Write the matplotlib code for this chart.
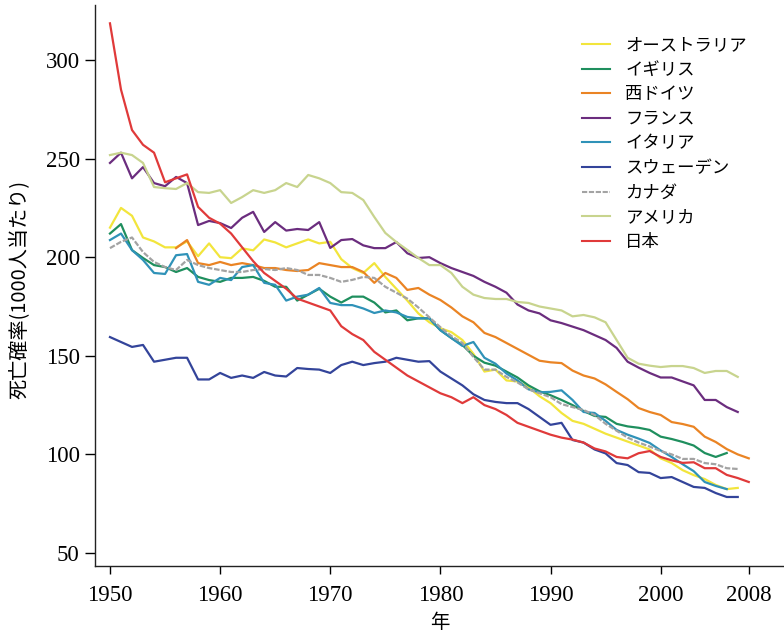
import matplotlib
matplotlib.use("Agg")
import matplotlib.pyplot as plt
import numpy as np

years_full = list(range(1950, 2009))

japan = [318.6, 285, 264.5, 257, 253, 238, 240, 242, 225.5, 220,
         217, 212, 205, 198, 192, 188, 184, 179, 177, 175,
         173, 165, 161, 158, 152, 148, 144, 140, 137, 134,
         131, 129, 126, 129, 125, 123, 120, 116, 114, 112,
         110, 108.5, 107.5, 106, 103, 101.5, 98.7, 98, 100.6, 101.7,
         98.7, 97, 95.7, 96, 93, 93, 89.6, 88, 86]

australia = [215, 225, 221, 210, 208, 205, 205, 208, 200.5, 207,
             200, 199.5, 204.5, 203.5, 209, 207.5, 205, 207, 209, 207,
             207.8, 199, 194.5, 192, 197, 190, 184, 178, 171.5, 167,
             164, 162, 158, 151, 142, 143, 137.5, 137, 134, 129.5,
             126, 121, 117, 115.5, 113, 110.5, 108.5, 106.5, 104.5, 102.5,
             98, 95.6, 92, 89.5, 87.5, 84.5, 82.4, 83]

uk = [212, 216.8, 203.6, 199.6, 196, 195, 192.5, 194.5, 190, 188.4,
      187.5, 189.5, 189.5, 190, 188, 185, 185, 178, 181, 184,
      180, 177, 180, 180, 177, 172, 173, 168, 169, 169,
      163, 159, 155.5, 150, 146.5, 145, 142, 139, 135, 132,
      130, 127.6, 125, 122, 119.5, 119, 115.5, 114.2, 113.5, 112.4,
      109, 107.8, 106.3, 104.5, 100.7, 98.7, 100.7]

west_germany_years = list(range(1956, 2009))
west_germany = [204.6, 208.7, 197, 196, 197.6, 196, 197, 196, 194.5, 194.5,
                193.5, 193, 193.5, 197, 196, 195, 195, 192.5, 187, 192,
                189.5, 183.4, 184.4, 181, 178.3, 174.5, 170, 167, 161.6, 159.5,
                156.5, 153.5, 150.5, 147.5, 146.7, 146.3, 142.5, 140, 138.5, 135.5,
                131.7, 128, 123.5, 121.5, 120, 116.4, 115.4, 114, 109, 106.3,
                102.7, 100, 98]

france = [247.8, 253, 240, 245.7, 237.6, 236, 240.7, 237.6, 216.3, 218.4,
          217.3, 214.8, 220, 223, 212.8, 217.8, 213.5, 214.3, 213.8, 217.8,
          204.7, 208.7, 209.2, 206, 204.6, 204.6, 207.7, 202, 199.6, 200,
          197, 194.5, 192.5, 190.5, 187.5, 185, 182, 176, 173, 171.5,
          168, 166.6, 164.8, 163, 160.5, 158, 154, 147, 144, 141.3,
          139, 139, 137, 135, 127.6, 127.6, 124, 121.5]

italy = [208.7, 212, 203.6, 198.6, 192, 191.5, 201, 201.6, 187.5, 186,
         189.5, 188.4, 195, 196, 187, 186, 178, 180, 181, 184.4,
         176.8, 175.7, 175.7, 174, 171.7, 173, 172, 169.7, 169, 169,
         163, 159, 155, 157, 149, 146, 141, 137.5, 133, 131.5,
         131.7, 132.5, 127.6, 121.5, 121, 117, 112.4, 110, 108, 105.8,
         102, 98.7, 95, 91.5, 86, 84, 82.4]

sweden = [159.5, 157, 154.5, 155.5, 147, 148, 149, 149, 138, 138,
          141.3, 138.8, 140, 138.8, 141.8, 140, 139.5, 143.8, 143.3, 143,
          141.3, 145.3, 147, 145.3, 146.3, 147, 149, 148, 147, 147.3,
          142, 138.5, 135, 130.5, 127.6, 126.6, 126, 126, 123, 119,
          115, 116, 107.3, 106, 102.5, 100.5, 95.6, 94.6, 91, 90.6,
          88, 88.5, 86, 83.5, 83, 80.4, 78.4, 78.4]

canada = [204.6, 207.8, 210, 202.6, 197.6, 195, 193.5, 198.6, 196, 194.5,
          193.5, 192.5, 192.5, 193.5, 194, 193.5, 194.5, 193.5, 191, 191,
          189.5, 187.5, 188.5, 190, 189.5, 185, 182, 179, 174.5, 169.5,
          164.5, 160, 156.5, 149.4, 143, 143, 139.3, 136.5, 133, 131,
          129, 125.5, 124, 122.5, 120, 115.5, 112, 108.5, 106, 104,
          101.7, 100, 97.7, 97.7, 95.6, 95, 93, 92.6]

usa = [251.8, 253, 251.8, 247.8, 235.6, 235, 234.6, 237.6, 233, 232.6,
       234, 227.5, 230.5, 234, 232.6, 234, 237.6, 235.6, 241.7, 240,
       237.6, 233, 232.6, 229, 220.4, 212.3, 207.7, 203.7, 199.6, 196,
       196, 192, 185, 181, 179.3, 178.8, 178.8, 177.3, 176.8, 175,
       174, 173, 170, 170.7, 169.5, 167, 158, 149, 146, 145,
       144.3, 144.8, 144.8, 143.8, 141.3, 142.3, 142.3, 139.3]

series = [
    ("オーストラリア", years_full, australia, "#F2E53C", "-"),
    ("イギリス", years_full, uk, "#1F8F5E", "-"),
    ("西ドイツ", west_germany_years, west_germany, "#EA8424", "-"),
    ("フランス", years_full, france, "#6B2D7E", "-"),
    ("イタリア", years_full, italy, "#2F92B8", "-"),
    ("スウェーデン", years_full, sweden, "#33449A", "-"),
    ("カナダ", years_full, canada, "#A3A3A3", (0, (2.5, 0.8))),
    ("アメリカ", years_full, usa, "#C8D48E", "-"),
    ("日本", years_full, japan, "#E03A3A", "-"),
]

x_ticks = [1950, 1960, 1970, 1980, 1990, 2000, 2008]
y_ticks = [50, 100, 150, 200, 250, 300]

cjk = ["Noto Sans CJK JP", "DejaVu Sans"]
serif = ["Liberation Serif", "DejaVu Serif"]

fig = plt.figure(figsize=(7.84, 6.37), dpi=100)
ax = fig.add_axes([95 / 784, 1 - 566 / 637, 1 - 95 / 784, (566 - 5) / 637])

for name, yrs, vals, col, ls in series:
    ax.plot(yrs[:len(vals)], vals, color=col, lw=1.6, ls=ls, label=name)

ax.set_xlim(1948.64, 2011.2)
ax.set_ylim(43.4, 327.9)
ax.set_xticks(x_ticks)
ax.set_yticks(y_ticks)
for lab in ax.get_xticklabels() + ax.get_yticklabels():
    lab.set_family(serif)
    lab.set_fontsize(16.5)
ax.tick_params(axis="y", length=7, width=1, pad=4)
ax.tick_params(axis="x", length=6, width=1, pad=8)
for s in ["top", "right"]:
    ax.spines[s].set_visible(False)
for s in ["left", "bottom"]:
    ax.spines[s].set_linewidth(1.0)
    ax.spines[s].set_color("#222222")

ax.set_xlabel("年", family=cjk, fontsize=14, labelpad=4)
ax.set_ylabel("死亡確率(1000人当たり)", family=cjk, fontsize=14.5)
ax.yaxis.set_label_coords((31 - 95) / 689, (566 - 289) / 561)

leg = ax.legend(loc="upper left", bbox_to_anchor=(582 / 784, 1 - 36 / 637),
                bbox_transform=fig.transFigure, frameon=False,
                prop={"family": cjk, "size": 12.5}, handlelength=1.6,
                handletextpad=0.9, labelspacing=0.38, borderpad=0, borderaxespad=0)
for h in leg.get_lines():
    h.set_linewidth(1.5)

fig.savefig("out.png", dpi=100)
